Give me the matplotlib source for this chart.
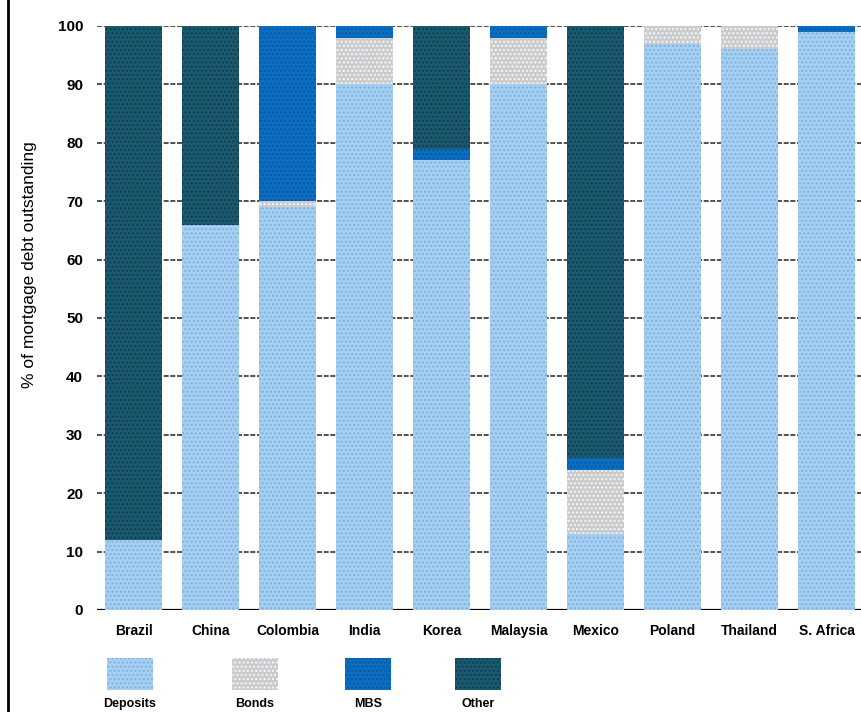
import numpy as np
import matplotlib
matplotlib.use("Agg")
import matplotlib.pyplot as plt
from matplotlib.patches import Rectangle
from matplotlib.lines import Line2D

countries = ['Brazil', 'China', 'Colombia', 'India', 'Korea', 'Malaysia',
             'Mexico', 'Poland', 'Thailand', 'S. Africa']
deposits = [12, 66, 69, 90, 77, 90, 13, 97, 96, 99]
bonds = [0, 0, 1, 8, 0, 8, 11, 3, 4, 0]
mbs = [0, 0, 30, 2, 2, 2, 2, 0, 0, 1]
other = [88, 34, 0, 0, 21, 0, 74, 0, 0, 0]

series = ['Deposits', 'Bonds', 'MBS', 'Other']
values = [deposits, bonds, mbs, other]
colors = ['#a6d0f2', '#cbcbcb', '#0a6ec2', '#1b5a6c']
dots = ['#7fb0e0', '#f4f8ff', '#0b56a0', '#0e3a5a']

plt.rcParams['font.family'] = ['Liberation Sans', 'DejaVu Sans']
plt.rcParams['hatch.linewidth'] = 1.0

fig = plt.figure(figsize=(8.62, 7.12), dpi=100)
ax = fig.add_axes([0.1125, 0.1433, 0.8875, 0.8202])

x = np.arange(len(countries))
bottom = np.zeros(len(countries))
for name, vals, c, d in zip(series, values, colors, dots):
    vals = np.array(vals, dtype=float)
    ax.bar(x, vals, bottom=bottom, width=0.73, color=c, edgecolor=d,
           hatch='....', linewidth=0, zorder=3)
    bottom += vals

ax.set_xlim(-0.475, 9.46)
ax.set_ylim(0, 100)
ax.set_yticks(np.arange(0, 101, 10))
ax.yaxis.grid(True, color='#333333', linestyle=(0, (3, 1)), linewidth=1.2, zorder=1)
ax.axhline(0, color='black', linewidth=1.6, zorder=2)
for s in ax.spines.values():
    s.set_visible(False)
ax.tick_params(axis='y', length=0, pad=10, labelsize=11)
ax.tick_params(axis='x', length=0, pad=10, labelsize=10)
ax.set_xticks(x)
ax.set_xticklabels(countries, fontweight='bold')
for lab in ax.get_yticklabels():
    lab.set_fontweight('bold')

# axis title sits higher than the axes centre
fig.text(30 / 862, 1 - 265 / 712, '% of mortgage debt outstanding', rotation=90,
         ha='center', va='center', fontsize=12.5)

# legend swatches under the chart, labels beneath each one
lx = [107, 232, 345, 455]
for name, c, d, px in zip(series, colors, dots, lx):
    fig.patches.append(Rectangle((px / 862, (712 - 690) / 712), 46 / 862, 32 / 712,
                                 transform=fig.transFigure, facecolor=c, edgecolor=d,
                                 hatch='....', linewidth=0))
    fig.text((px + 23) / 862, (712 - 704) / 712, name, ha='center', va='center',
             fontsize=9, fontweight='bold')

fig.lines.append(Line2D([8 / 862, 8 / 862], [0, 1], transform=fig.transFigure,
                        color='black', linewidth=2))

fig.savefig('out.png', dpi=100)
